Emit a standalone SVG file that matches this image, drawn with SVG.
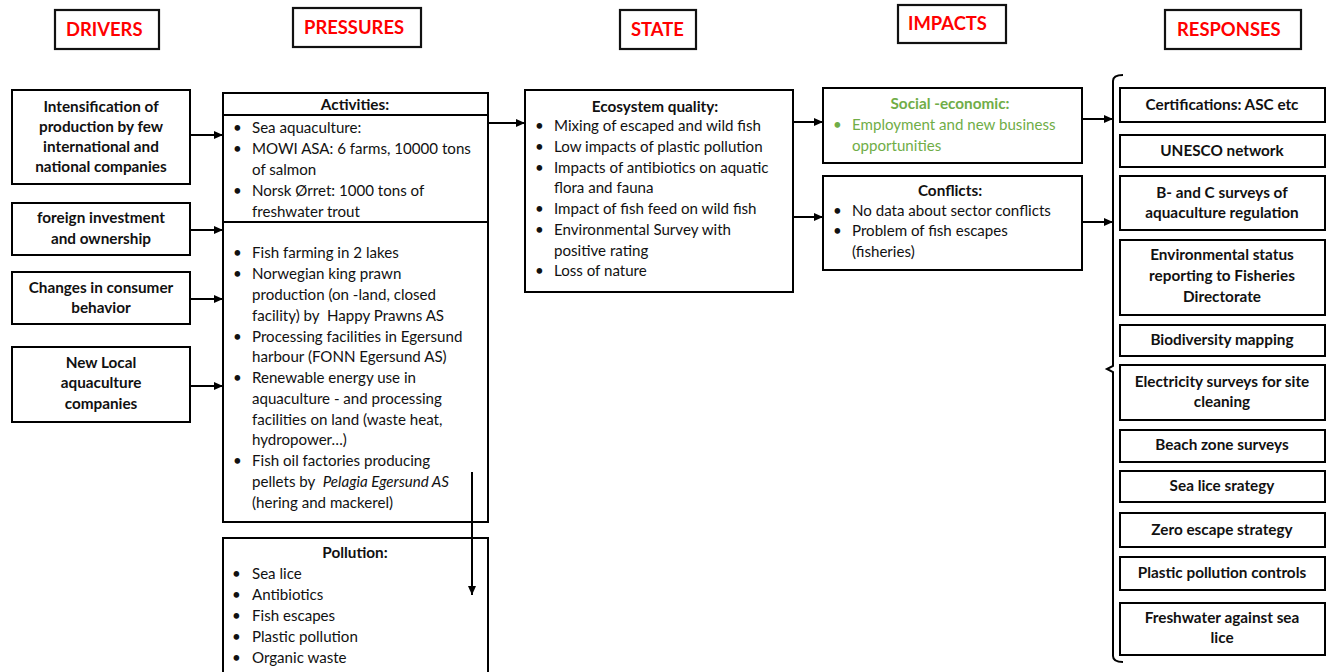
<svg xmlns="http://www.w3.org/2000/svg" width="1331" height="672" viewBox="0 0 1331 672">
  <style>
    .box { fill: #fff; stroke: #000; stroke-width: 2; }
    .hbox { fill: #fff; stroke: #111; stroke-width: 2.2; }
    .hdr { font-family: Lato, "Liberation Sans", sans-serif; font-weight: bold; font-size: 18.4px; fill: #ff0000; }
    .b { font-family: Lato, "Liberation Sans", sans-serif; font-weight: bold; font-size: 15.3px; fill: #111; text-anchor: middle; }
    .t { font-family: Lato, "Liberation Sans", sans-serif; font-size: 15.1px; fill: #111; }
    .green { fill: #70ad47; }
    .con { stroke: #000; stroke-width: 2; fill: none; }
  </style>
  <defs>
    <marker id="arrow" markerUnits="userSpaceOnUse" markerWidth="9" markerHeight="8" refX="9" refY="4" orient="auto">
      <path d="M0,0 L9,4 L0,8 z" fill="#000"/>
    </marker>
  </defs>
  <rect width="1331" height="672" fill="#fff"/>

  <!-- Column headers -->
  <g id="hdr-drivers">
    <rect class="hbox" x="55" y="10" width="104" height="39"/>
    <text class="hdr" x="66" y="36">DRIVERS</text>
  </g>
  <g id="hdr-pressures">
    <rect class="hbox" x="293" y="8" width="128" height="39"/>
    <text class="hdr" x="304" y="34" font-size="17.6">PRESSURES</text>
  </g>
  <g id="hdr-state">
    <rect class="hbox" x="620" y="10" width="76" height="39"/>
    <text class="hdr" x="631" y="36">STATE</text>
  </g>
  <g id="hdr-impacts">
    <rect class="hbox" x="898" y="5" width="108" height="38"/>
    <text class="hdr" x="908" y="30">IMPACTS</text>
  </g>
  <g id="hdr-responses">
    <rect class="hbox" x="1165" y="10" width="136" height="39"/>
    <text class="hdr" x="1177" y="36">RESPONSES</text>
  </g>

  <!-- Drivers -->
  <g id="driver-intensification">
    <rect class="box" x="12" y="90" width="178" height="94"/>
    <text class="b" x="101" y="112">Intensification of</text>
    <text class="b" x="101" y="132">production by few</text>
    <text class="b" x="101" y="152">international and</text>
    <text class="b" x="101" y="172">national companies</text>
  </g>
  <g id="driver-foreign">
    <rect class="box" x="12" y="203" width="178" height="52"/>
    <text class="b" x="101" y="223">foreign investment</text>
    <text class="b" x="101" y="244">and ownership</text>
  </g>
  <g id="driver-consumer">
    <rect class="box" x="12" y="272" width="178" height="52"/>
    <text class="b" x="101" y="293">Changes in consumer</text>
    <text class="b" x="101" y="313">behavior</text>
  </g>
  <g id="driver-local">
    <rect class="box" x="12" y="347" width="178" height="75"/>
    <text class="b" x="101" y="368">New Local</text>
    <text class="b" x="101" y="388">aquaculture</text>
    <text class="b" x="101" y="409">companies</text>
  </g>

  <!-- Pressures: activities -->
  <g id="pressures-activities">
    <rect class="box" x="223" y="93" width="265" height="429"/>
    <line class="con" x1="223" y1="115" x2="488" y2="115"/>
    <line class="con" x1="223" y1="222" x2="488" y2="222"/>
    <text class="b" x="355" y="110">Activities:</text>
    <g class="t">
      <text x="233" y="133">•</text><text x="252" y="133">Sea aquaculture:</text>
      <text x="233" y="154">•</text><text x="252" y="154">MOWI ASA: 6 farms, 10000 tons</text>
      <text x="252" y="175">of salmon</text>
      <text x="233" y="196">•</text><text x="252" y="196">Norsk Ørret: 1000 tons of</text>
      <text x="252" y="217">freshwater trout</text>
      <text x="233" y="258">•</text><text x="252" y="258">Fish farming in 2 lakes</text>
      <text x="233" y="279">•</text><text x="252" y="279">Norwegian king prawn</text>
      <text x="252" y="300">production (on -land, closed</text>
      <text x="252" y="321" xml:space="preserve">facility) by  Happy Prawns AS</text>
      <text x="233" y="342">•</text><text x="252" y="342">Processing facilities in Egersund</text>
      <text x="252" y="362">harbour (FONN Egersund AS)</text>
      <text x="233" y="383">•</text><text x="252" y="383">Renewable energy use in</text>
      <text x="252" y="404">aquaculture - and processing</text>
      <text x="252" y="425">facilities on land (waste heat,</text>
      <text x="252" y="445">hydropower…)</text>
      <text x="233" y="466">•</text><text x="252" y="466">Fish oil factories producing</text>
      <text x="252" y="487" xml:space="preserve">pellets by  <tspan font-style="italic">Pelagia Egersund AS</tspan></text>
      <text x="252" y="508">(hering and mackerel)</text>
    </g>
  </g>

  <!-- Pressures: pollution -->
  <g id="pressures-pollution">
    <rect class="box" x="223" y="538" width="265" height="145"/>
    <text class="b" x="355" y="558">Pollution:</text>
    <g class="t">
      <text x="232" y="579">•</text><text x="252" y="579">Sea lice</text>
      <text x="232" y="600">•</text><text x="252" y="600">Antibiotics</text>
      <text x="232" y="621">•</text><text x="252" y="621">Fish escapes</text>
      <text x="232" y="642">•</text><text x="252" y="642">Plastic pollution</text>
      <text x="232" y="663">•</text><text x="252" y="663">Organic waste</text>
    </g>
  </g>

  <!-- State -->
  <g id="state-ecosystem">
    <rect class="box" x="525" y="90" width="268" height="202"/>
    <text class="b" x="655" y="112">Ecosystem quality:</text>
    <g class="t">
      <text x="535" y="131">•</text><text x="554" y="131">Mixing of escaped and wild fish</text>
      <text x="535" y="152">•</text><text x="554" y="152">Low impacts of plastic pollution</text>
      <text x="535" y="173">•</text><text x="554" y="173">Impacts of antibiotics on aquatic</text>
      <text x="554" y="193">flora and fauna</text>
      <text x="535" y="214">•</text><text x="554" y="214">Impact of fish feed on wild fish</text>
      <text x="535" y="235">•</text><text x="554" y="235">Environmental Survey with</text>
      <text x="554" y="256">positive rating</text>
      <text x="535" y="276">•</text><text x="554" y="276">Loss of nature</text>
    </g>
  </g>

  <!-- Impacts -->
  <g id="impacts-social">
    <rect class="box" x="823" y="88" width="259" height="75"/>
    <text class="b green" x="950" y="109">Social -economic:</text>
    <g class="t green">
      <text x="833" y="130">•</text><text x="852" y="130">Employment and new business</text>
      <text x="852" y="151">opportunities</text>
    </g>
  </g>
  <g id="impacts-conflicts">
    <rect class="box" x="823" y="176" width="259" height="94"/>
    <text class="b" x="950" y="196">Conflicts:</text>
    <g class="t">
      <text x="833" y="216">•</text><text x="852" y="216">No data about sector conflicts</text>
      <text x="833" y="236">•</text><text x="852" y="236">Problem of fish escapes</text>
      <text x="852" y="257">(fisheries)</text>
    </g>
  </g>

  <!-- Responses -->
  <g id="resp-certifications">
    <rect class="box" x="1120" y="88" width="205" height="34"/>
    <text class="b" x="1222" y="110">Certifications: ASC etc</text>
  </g>
  <g id="resp-unesco">
    <rect class="box" x="1120" y="135" width="205" height="32"/>
    <text class="b" x="1222" y="156">UNESCO network</text>
  </g>
  <g id="resp-surveys">
    <rect class="box" x="1120" y="176" width="205" height="54"/>
    <text class="b" x="1222" y="198">B- and C surveys of</text>
    <text class="b" x="1222" y="218">aquaculture regulation</text>
  </g>
  <g id="resp-envstatus">
    <rect class="box" x="1120" y="240" width="205" height="75"/>
    <text class="b" x="1222" y="260">Environmental status</text>
    <text class="b" x="1222" y="281">reporting to Fisheries</text>
    <text class="b" x="1222" y="302">Directorate</text>
  </g>
  <g id="resp-biodiversity">
    <rect class="box" x="1120" y="325" width="205" height="31"/>
    <text class="b" x="1222" y="345">Biodiversity mapping</text>
  </g>
  <g id="resp-electricity">
    <rect class="box" x="1120" y="365" width="205" height="55"/>
    <text class="b" x="1222" y="387">Electricity surveys for site</text>
    <text class="b" x="1222" y="407">cleaning</text>
  </g>
  <g id="resp-beach">
    <rect class="box" x="1120" y="430" width="205" height="32"/>
    <text class="b" x="1222" y="450">Beach zone surveys</text>
  </g>
  <g id="resp-sealice">
    <rect class="box" x="1120" y="471" width="205" height="31"/>
    <text class="b" x="1222" y="491">Sea lice srategy</text>
  </g>
  <g id="resp-zeroescape">
    <rect class="box" x="1120" y="513" width="205" height="34"/>
    <text class="b" x="1222" y="535">Zero escape strategy</text>
  </g>
  <g id="resp-plastic">
    <rect class="box" x="1120" y="557" width="205" height="33"/>
    <text class="b" x="1222" y="578">Plastic pollution controls</text>
  </g>
  <g id="resp-freshwater">
    <rect class="box" x="1120" y="603" width="205" height="52"/>
    <text class="b" x="1222" y="623">Freshwater against sea</text>
    <text class="b" x="1222" y="643">lice</text>
  </g>

  <!-- Connectors -->
  <g id="connectors">
    <line class="con" x1="190" y1="135" x2="223" y2="135" marker-end="url(#arrow)"/>
    <line class="con" x1="190" y1="230" x2="223" y2="230" marker-end="url(#arrow)"/>
    <line class="con" x1="190" y1="299" x2="223" y2="299" marker-end="url(#arrow)"/>
    <line class="con" x1="190" y1="386" x2="223" y2="386" marker-end="url(#arrow)"/>
    <line class="con" x1="488" y1="123" x2="525" y2="123" marker-end="url(#arrow)"/>
    <line class="con" x1="793" y1="122" x2="823" y2="122" marker-end="url(#arrow)"/>
    <line class="con" x1="793" y1="217" x2="823" y2="217" marker-end="url(#arrow)"/>
    <line class="con" x1="1082" y1="119" x2="1113" y2="119" marker-end="url(#arrow)"/>
    <line class="con" x1="1082" y1="222" x2="1113" y2="222" marker-end="url(#arrow)"/>
    <line class="con" x1="472" y1="472" x2="472" y2="595" marker-end="url(#arrow)"/>
    <!-- brace gathering the responses -->
    <path class="con" d="M1123,75 Q1113,75 1113,81 L1113,366 L1107,369 L1113,372 L1113,656 Q1113,662 1123,662"/>
  </g>
</svg>
